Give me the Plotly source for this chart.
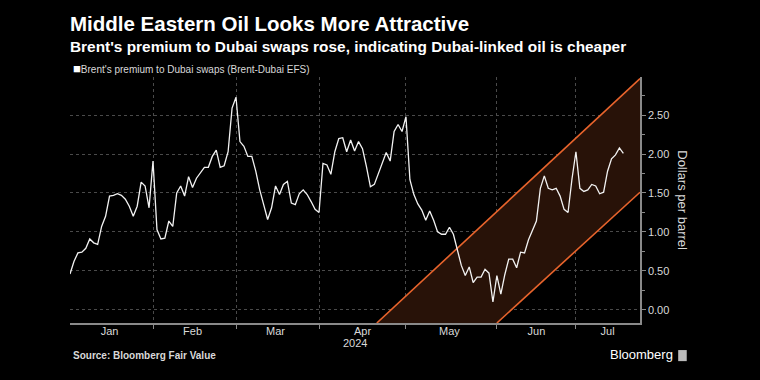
import pandas as pd
import plotly.graph_objects as go

# ---- data (Brent-Dubai EFS, USD/bbl), business days ----
start_date = "2024-01-03"
jan = [0.46, 0.62, 0.73, 0.74, 0.79, 0.91, 0.86, 0.84, 1.07, 1.20, 1.46, 1.47, 1.49, 1.47, 1.42, 1.33, 1.20, 1.33, 1.64, 1.59, 1.31]
feb = [1.91, 1.03, 0.91, 0.92, 1.14, 1.07, 1.50, 1.59, 1.46, 1.71, 1.57, 1.69, 1.76, 1.83, 1.83, 1.97, 2.05, 1.83, 1.85, 2.03, 2.59]
mar = [2.73, 2.16, 2.10, 1.97, 1.97, 1.78, 1.54, 1.35, 1.16, 1.31, 1.59, 1.48, 1.61, 1.65, 1.37, 1.35, 1.49, 1.54, 1.48, 1.39, 1.29]
apr = [1.25, 1.88, 1.86, 1.74, 2.03, 2.20, 2.21, 2.03, 2.18, 2.04, 2.16, 2.07, 1.84, 1.58, 1.61, 1.75, 1.89, 2.02, 1.91, 2.29, 2.38, 2.29]
may = [2.48, 1.67, 1.48, 1.36, 1.28, 1.15, 1.27, 1.15, 1.00, 0.97, 0.97, 1.06, 0.97, 0.76, 0.57, 0.44, 0.55, 0.35, 0.42, 0.42, 0.52, 0.47, 0.10]
jun = [0.44, 0.20, 0.45, 0.65, 0.65, 0.54, 0.74, 0.73, 0.90, 1.03, 1.14, 1.56, 1.72, 1.56, 1.54, 1.56, 1.46, 1.29, 1.25, 1.68]
jul = [2.03, 1.56, 1.52, 1.54, 1.61, 1.59, 1.49, 1.51, 1.78, 1.94, 1.99, 2.08, 2.01]

values = jan + feb + mar + apr + may + jun + jul
dates = pd.bdate_range(start_date, periods=len(values))

# rising channel (annotation band)
upper_x = ["2024-04-19 15:00", "2024-07-23 05:00"]
upper_y = [-0.17, 2.97]
lower_x = ["2024-06-03 00:00", "2024-07-23 05:00"]
lower_y = [-0.17, 1.51]

x_range = ["2024-01-03", "2024-07-23 05:00"]
y_range = [-0.17, 2.99]
y_ticks = [0, 0.5, 1.0, 1.5, 2.0, 2.5]
month_labels = ["Jan", "Feb", "Mar", "Apr", "May", "Jun", "Jul"]

title = "Middle Eastern Oil Looks More Attractive"
subtitle = "Brent's premium to Dubai swaps rose, indicating Dubai-linked oil is cheaper"
series_name = "Brent's premium to Dubai swaps (Brent-Dubai EFS)"
source = "Source: Bloomberg Fair Value"

# ---- derived tick positions ----
vis_days = pd.bdate_range(x_range[0], pd.Timestamp(x_range[1]).normalize())
label_pos = []
for m in range(1, 8):
    d = vis_days[vis_days.month == m]
    label_pos.append(d[len(d) // 2])
month_starts = [d for d in pd.bdate_range("2024-01-01", "2024-07-31", freq="BMS") if d > pd.Timestamp(x_range[0])]

FONT = "Liberation Sans, Arial, sans-serif"
ORANGE = "#e8642c"
FILL = "#281208"
GRID = "#4a4a4a"
AXIS = "#8a8a8a"
TXT = "#d9d9d9"

fig = go.Figure()

# channel fill
fig.add_trace(go.Scatter(
    x=[upper_x[0], upper_x[1], lower_x[1], lower_x[0], upper_x[0]],
    y=[upper_y[0], upper_y[1], lower_y[1], lower_y[0], upper_y[0]],
    mode="lines", fill="toself", fillcolor=FILL, line=dict(width=0),
    hoverinfo="skip", showlegend=False))
fig.add_trace(go.Scatter(x=upper_x, y=upper_y, mode="lines",
                         line=dict(color=ORANGE, width=1.6), showlegend=False, hoverinfo="skip"))
fig.add_trace(go.Scatter(x=lower_x, y=lower_y, mode="lines",
                         line=dict(color=ORANGE, width=1.6), showlegend=False, hoverinfo="skip"))

# main series
fig.add_trace(go.Scatter(x=dates, y=values, mode="lines", name=series_name,
                         line=dict(color="#f2f2f2", width=1.3), showlegend=False))

fig.update_layout(
    width=760, height=380,
    paper_bgcolor="black", plot_bgcolor="black",
    margin=dict(l=70, r=120, t=77, b=57),
    font=dict(family=FONT, color=TXT, size=11),
    showlegend=False,
)

fig.update_xaxes(
    type="date",
    range=x_range,
    rangebreaks=[dict(bounds=["sat", "mon"])],
    tickmode="array", tickvals=label_pos, ticktext=month_labels,
    ticks="", showgrid=False,
    ticklabelstandoff=-3,
    tickfont=dict(size=11, color=TXT, family=FONT),
    showline=True, linecolor=AXIS, linewidth=2,
    minor=dict(tickmode="array", tickvals=month_starts, showgrid=True,
               gridcolor=GRID, griddash="dot", gridwidth=1,
               ticks="outside", ticklen=4, tickcolor=AXIS),
    zeroline=False,
)

fig.update_yaxes(
    side="right", range=y_range,
    tickmode="array", tickvals=y_ticks, tickformat=".2f",
    ticks="outside", ticklen=4, tickcolor=AXIS,
    showgrid=True, gridcolor=GRID, griddash="dot", gridwidth=1,
    showline=True, linecolor=AXIS, linewidth=1.5,
    tickfont=dict(size=11, color=TXT, family=FONT),
    minor=dict(dtick=0.25, tick0=0, ticks="outside", ticklen=3, tickcolor=AXIS, showgrid=False),
    zeroline=False,
)

fig.add_annotation(text="<b>" + title + "</b>", xref="paper", yref="paper", x=0, y=1.2195,
                   xanchor="left", yanchor="middle", showarrow=False,
                   font=dict(size=20.5, color="white", family=FONT), xshift=-2)
fig.add_annotation(text="<b>" + subtitle + "</b>", xref="paper", yref="paper", x=0, y=1.122,
                   xanchor="left", yanchor="middle", showarrow=False,
                   font=dict(size=15.4, color="white", family=FONT), xshift=-2)
fig.add_annotation(text="<span style='font-size:13px;color:white'>■</span>" + series_name,
                   xref="paper", yref="paper", x=0, y=1.035,
                   xanchor="left", yanchor="middle", showarrow=False,
                   font=dict(size=10, color=TXT, family=FONT), xshift=1)
fig.add_annotation(text="2024", xref="x", yref="paper", x=label_pos[3], y=-0.083,
                   xanchor="center", yanchor="middle", showarrow=False, xshift=-7,
                   font=dict(size=11, color=TXT, family=FONT))
fig.add_annotation(text="Dollars per barrel", xref="paper", yref="paper", x=1.075, y=0.5,
                   xanchor="center", yanchor="middle", showarrow=False, textangle=90,
                   font=dict(size=13, color=TXT, family=FONT))
fig.add_annotation(text="<b>" + source + "</b>", xref="paper", yref="paper", x=0, y=-0.134,
                   xanchor="left", yanchor="middle", showarrow=False, xshift=1,
                   font=dict(size=10, color=TXT, family=FONT))
fig.add_annotation(text="Bloomberg", xref="paper", yref="paper", x=1.062, y=-0.13,
                   xanchor="right", yanchor="middle", showarrow=False,
                   font=dict(size=13, color="white", family=FONT))
fig.add_shape(type="rect", xref="paper", yref="paper", x0=1.067, x1=1.082, y0=-0.155, y1=-0.11,
              fillcolor="#bbbbbb", line=dict(width=0))

fig.write_html("out.html", config={"displayModeBar": False},
               post_script="document.body.style.margin='0';document.body.style.background='black';")
